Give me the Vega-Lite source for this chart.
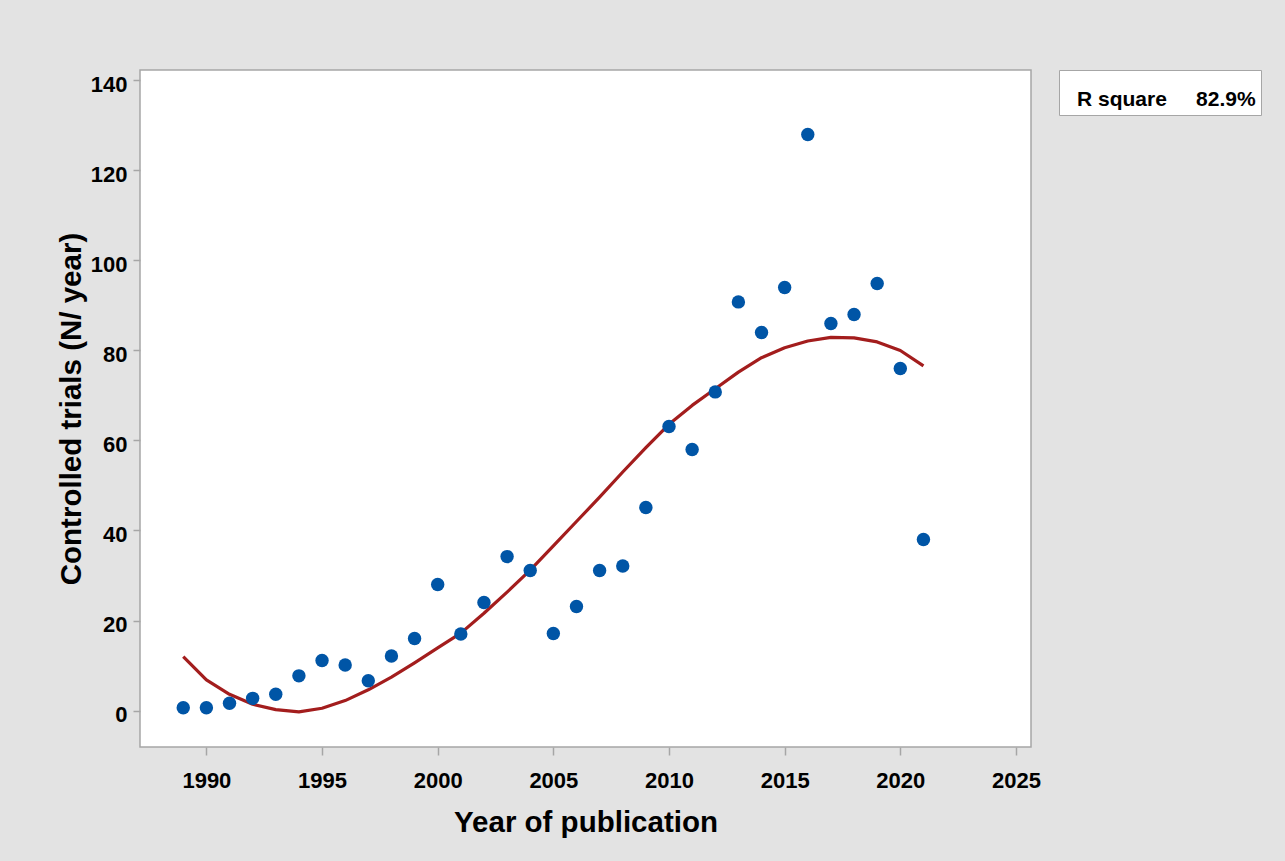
{
  "$schema": "https://vega.github.io/schema/vega-lite/v6.json",
  "width": 891,
  "height": 677,
  "autosize": {"type": "none"},
  "padding": {"left": 140, "top": 70, "right": 254, "bottom": 114},
  "background": "#e3e3e3",
  "config": {
    "font": "Liberation Sans",
    "view": {"fill": "white", "stroke": "#a6a6a6", "strokeWidth": 1.5},
    "axis": {
      "domain": false,
      "grid": false,
      "tickColor": "#a6a6a6",
      "tickWidth": 1.5,
      "labelFont": "Liberation Sans",
      "labelFontSize": 22,
      "labelFontWeight": "bold",
      "labelColor": "black",
      "titleFont": "Liberation Sans",
      "titleFontSize": 29.5,
      "titleFontWeight": "bold",
      "titleColor": "black",
      "labelFlush": false
    },
    "legend": {
      "orient": "right",
      "offset": 28,
      "padding": 5,
      "fillColor": "white",
      "strokeColor": "#a6a6a6",
      "titleFontSize": 8,
      "titlePadding": 6,
      "labelFont": "Liberation Sans",
      "labelFontSize": 21,
      "labelFontWeight": "bold",
      "labelColor": "black",
      "labelLimit": 400,
      "labelOffset": -8,
      "symbolType": "circle",
      "symbolOpacity": 0,
      "symbolSize": 1,
      "symbolStrokeWidth": 0
    }
  },
  "datasets": {
    "points": [
      {"year": 1989, "trials": 0.6},
      {"year": 1990, "trials": 0.6},
      {"year": 1991, "trials": 1.6},
      {"year": 1992, "trials": 2.7},
      {"year": 1993, "trials": 3.6},
      {"year": 1994, "trials": 7.7},
      {"year": 1995, "trials": 11.1},
      {"year": 1996, "trials": 10.1},
      {"year": 1997, "trials": 6.6},
      {"year": 1998, "trials": 12.1},
      {"year": 1999, "trials": 16.0},
      {"year": 2000, "trials": 28.0},
      {"year": 2001, "trials": 17.0},
      {"year": 2002, "trials": 24.0},
      {"year": 2003, "trials": 34.2},
      {"year": 2004, "trials": 31.1},
      {"year": 2005, "trials": 17.1},
      {"year": 2006, "trials": 23.1},
      {"year": 2007, "trials": 31.1},
      {"year": 2008, "trials": 32.1},
      {"year": 2009, "trials": 45.1},
      {"year": 2010, "trials": 63.1},
      {"year": 2011, "trials": 58.0},
      {"year": 2012, "trials": 70.8},
      {"year": 2013, "trials": 90.8},
      {"year": 2014, "trials": 84.0},
      {"year": 2015, "trials": 94.0},
      {"year": 2016, "trials": 128.0},
      {"year": 2017, "trials": 86.0},
      {"year": 2018, "trials": 88.0},
      {"year": 2019, "trials": 94.9},
      {"year": 2020, "trials": 76.0},
      {"year": 2021, "trials": 38.0}
    ],
    "fit": [
      {"year": 1989, "fitted": 12.0},
      {"year": 1990, "fitted": 6.8},
      {"year": 1991, "fitted": 3.6},
      {"year": 1992, "fitted": 1.4},
      {"year": 1993, "fitted": 0.2},
      {"year": 1994, "fitted": -0.3},
      {"year": 1995, "fitted": 0.5},
      {"year": 1996, "fitted": 2.2},
      {"year": 1997, "fitted": 4.6},
      {"year": 1998, "fitted": 7.4},
      {"year": 1999, "fitted": 10.6},
      {"year": 2000, "fitted": 13.9},
      {"year": 2001, "fitted": 17.2},
      {"year": 2002, "fitted": 21.6},
      {"year": 2003, "fitted": 26.3},
      {"year": 2004, "fitted": 31.2},
      {"year": 2005, "fitted": 36.6},
      {"year": 2006, "fitted": 42.0},
      {"year": 2007, "fitted": 47.4},
      {"year": 2008, "fitted": 53.0},
      {"year": 2009, "fitted": 58.4},
      {"year": 2010, "fitted": 63.6},
      {"year": 2011, "fitted": 67.8},
      {"year": 2012, "fitted": 71.5},
      {"year": 2013, "fitted": 75.2},
      {"year": 2014, "fitted": 78.4},
      {"year": 2015, "fitted": 80.6},
      {"year": 2016, "fitted": 82.1},
      {"year": 2017, "fitted": 82.9},
      {"year": 2018, "fitted": 82.8},
      {"year": 2019, "fitted": 81.9},
      {"year": 2020, "fitted": 80.0},
      {"year": 2021, "fitted": 76.6}
    ]
  },
  "layer": [
    {
      "data": {"name": "fit"},
      "mark": {"type": "line", "strokeWidth": 3.2, "strokeJoin": "round"},
      "encoding": {
        "x": {
          "field": "year",
          "type": "quantitative",
          "scale": {"domain": [1987.13, 2025.65], "nice": false, "zero": false},
          "axis": {
            "title": "Year of publication",
            "values": [1990, 1995, 2000, 2005, 2010, 2015, 2020, 2025],
            "format": "d",
            "tickSize": 8,
            "labelPadding": 15,
            "titlePadding": 17
          }
        },
        "y": {
          "field": "fitted",
          "type": "quantitative",
          "scale": {"domain": [-8.11, 142.33], "nice": false, "zero": false},
          "axis": {
            "title": "Controlled trials (N/ year)",
            "values": [0, 20, 40, 60, 80, 100, 120, 140],
            "tickSize": 7,
            "labelPadding": 6,
            "labelOffset": 4,
            "titlePadding": 4
          }
        },
        "stroke": {
          "datum": "R square\u00a0\u00a0\u00a0\u00a0\u00a082.9%",
          "scale": {"range": ["#a31d1d"]},
          "legend": {"title": "\u00a0"}
        }
      }
    },
    {
      "data": {"name": "points"},
      "mark": {"type": "circle", "size": 180, "color": "#0055a6", "opacity": 1},
      "encoding": {
        "x": {"field": "year", "type": "quantitative"},
        "y": {"field": "trials", "type": "quantitative", "title": "Controlled trials (N/ year)"}
      }
    }
  ]
}
